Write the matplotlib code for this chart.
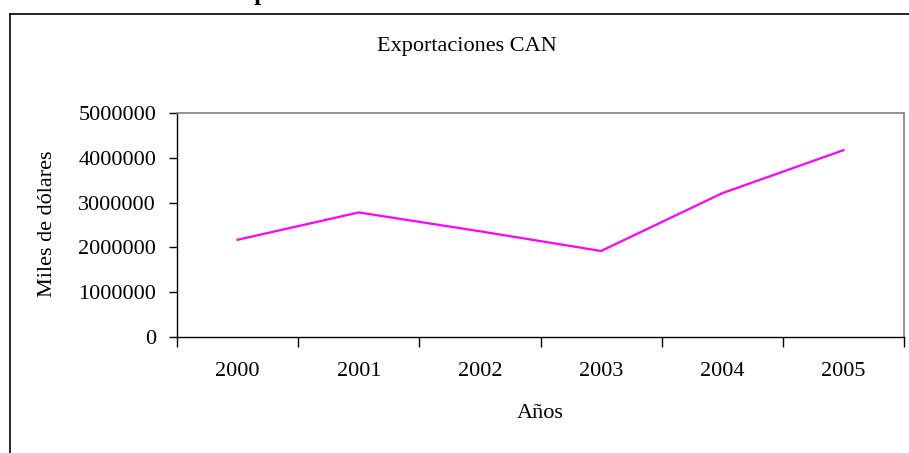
import numpy as np
import matplotlib.pyplot as plt
from matplotlib.lines import Line2D

years = ['2000', '2001', '2002', '2003', '2004', '2005']
exports = [2170000, 2780000, 2360000, 1920000, 3210000, 4170000]  # miles de dólares
yticks = [0, 1000000, 2000000, 3000000, 4000000, 5000000]

plt.rcParams['font.family'] = 'Liberation Serif'
plt.rcParams['font.size'] = 16

W, H = 909, 453
fig = plt.figure(figsize=(W / 100, H / 100), dpi=100)
ax = fig.add_axes([177 / W, 1 - 337 / H, (904 - 177) / W, (337 - 113) / H])

x = np.arange(len(years))
ax.plot(x, exports, color='#FF00FF', lw=1.6)

ax.set_xlim(-0.5, len(years) - 0.5)
ax.set_ylim(yticks[0], yticks[-1])
ax.set_yticks(yticks)
ax.set_yticklabels([str(v) for v in yticks])
ax.tick_params(axis='y', direction='out', length=6, width=1, pad=9)

# ticks between categories, labels at the centres
ax.set_xticks(np.arange(-0.5, len(years), 1.0))
ax.set_xticklabels([])
ax.set_xticks(x, minor=True)
ax.set_xticklabels(years, minor=True)
ax.tick_params(axis='x', which='major', direction='out', length=7, width=1)
ax.tick_params(axis='x', which='minor', length=0, pad=18)

for s in ['top', 'right']:
    ax.spines[s].set_color('#808080')
    ax.spines[s].set_linewidth(1.2)
for s in ['left', 'bottom']:
    ax.spines[s].set_color('black')
    ax.spines[s].set_linewidth(1.0)

fig.text(467 / W, 1 - 47 / H, 'Exportaciones CAN', ha='center', va='center')
fig.text(48 / W, 1 - 224 / H, 'Miles de dólares', ha='center', va='center', rotation=90)
fig.text(540 / W, 1 - 414 / H, 'Años', ha='center', va='center')

# outer frame of the embedded chart
fig.add_artist(Line2D([10 / W, 1], [1 - 14 / H, 1 - 14 / H], color='black', lw=1.2))
fig.add_artist(Line2D([10 / W, 10 / W], [0, 1 - 14 / H], color='black', lw=1.2))

# heading above, cut off by the page edge
fig.text(226 / W, 1 + 0.5 / H, 'Exportaciones', ha='left', va='baseline',
         fontsize=18, fontweight='bold')

fig.savefig('out.png', dpi=100)
